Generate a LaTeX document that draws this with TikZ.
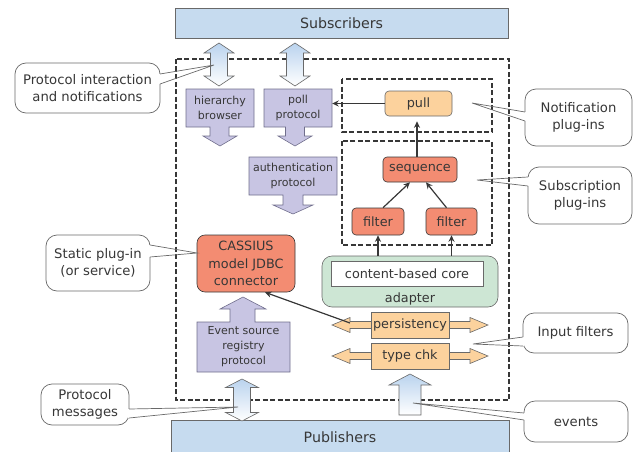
\documentclass[tikz,border=0pt]{standalone}
\usepackage{fontspec}
\setmainfont{DejaVu Sans}
\usetikzlibrary{arrows.meta,calc}
\definecolor{subblue}{RGB}{198,219,239}
\definecolor{lav}{RGB}{200,197,227}
\definecolor{lavline}{RGB}{112,110,140}
\definecolor{salmon}{RGB}{243,140,114}
\definecolor{peach}{RGB}{252,210,157}
\definecolor{mint}{RGB}{205,230,212}
\definecolor{ink}{RGB}{55,55,55}
\definecolor{edge}{RGB}{105,105,105}
\definecolor{arrblue}{RGB}{186,211,238}
\newcommand{\myCallFont}{\fontsize{13.2}{17}\selectfont}
\newcommand{\myBoxFont}{\fontsize{11}{15}\selectfont}
\newcommand{\myPlugFont}{\fontsize{12.8}{17.3}\selectfont}
\newcommand{\myLayerFont}{\fontsize{14.2}{17}\selectfont}
% vertical double arrow: style, cx, ytop, ybot, headhalf, shafthalf, headlen
\newcommand{\myVD}[7]{%
  \path[#1] (#2-#6,#3+#7) -- (#2-#5,#3+#7) -- (#2,#3) -- (#2+#5,#3+#7) -- (#2+#6,#3+#7)
    -- (#2+#6,#4-#7) -- (#2+#5,#4-#7) -- (#2,#4) -- (#2-#5,#4-#7) -- (#2-#6,#4-#7) -- cycle;}
% horizontal double arrow: style, cy, xleft, xright, headhalf, shafthalf, headlen
\newcommand{\myHD}[7]{%
  \path[#1] (#3,#2) -- (#3+#7,#2-#5) -- (#3+#7,#2-#6) -- (#4-#7,#2-#6) -- (#4-#7,#2-#5)
    -- (#4,#2) -- (#4-#7,#2+#5) -- (#4-#7,#2+#6) -- (#3+#7,#2+#6) -- (#3+#7,#2+#5) -- cycle;}
% callout: x1,y1,x2,y2, base x, base y1, base y2, tip x, tip y
\newcommand{\myCallout}[9]{%
  \draw[callout] (#1,#2) rectangle (#3,#4);
  \fill[white] (#5-1,#6+0.4) rectangle (#5+1,#7-0.4);
  \draw[calloutline] (#5,#6) -- (#8,#9) -- (#5,#7);}
\begin{document}
\begin{tikzpicture}[x=1pt,y=-1pt,
  every node/.style={text=ink, align=center, inner sep=0pt},
  layer/.style={draw=edge, fill=subblue, line width=0.6pt},
  lavshape/.style={draw=lavline, fill=lav, line width=0.6pt},
  boxlabel/.style={minimum width=#1, font=\myBoxFont},
  plug/.style={draw=ink, fill=salmon, rounded corners=4pt, line width=0.6pt, font=\myPlugFont},
  peachbox/.style={draw=edge, fill=peach, line width=0.6pt, font=\myPlugFont},
  peacharrow/.style={draw=edge, fill=peach, line width=0.6pt},
  dashbox/.style={draw=ink, dash pattern=on 5pt off 2.5pt, line width=1.1pt},
  conn/.style={draw=ink, line width=1.2pt, -{Stealth[length=6.5pt,width=6pt]}},
  callout/.style={draw=edge, fill=white, line width=0.7pt, rounded corners=11pt},
  calloutline/.style={draw=edge, line width=0.7pt},
  grad/.style={draw=edge, line width=0.6pt, top color=arrblue, bottom color=white}]
\useasboundingbox (0,0) rectangle (634,452);

% layers
\node[layer, minimum width=333pt, minimum height=30pt, font=\myLayerFont] (subs) at (341.5,23) {Subscribers};
\draw[layer] (171,420) rectangle (509,458);
\node[font=\myLayerFont] (pubs) at (340,437) {Publishers};

% dashed containers
\draw[dashbox] (176,59) rectangle (509,400);
\draw[dashbox] (342,79) rectangle (492,132);
\draw[dashbox] (342,141) rectangle (492,245);

% subscriber side double arrows
\myVD{grad}{219}{43}{86}{15}{8.5}{10}
\myVD{grad}{295}{43}{86}{15}{8.5}{10}

% purple protocol shapes
\path[lavshape] (186,89) -- (254,89) -- (254,127) -- (229,127) -- (229,136) -- (237,136) -- (220,146)
  -- (203,136) -- (210,136) -- (210,127) -- (186,127) -- cycle;
\node[boxlabel=68pt, minimum height=38pt] (hier) at (220,108) {hierarchy\\browser};
\path[lavshape] (264,89) -- (332,89) -- (332,127) -- (304.5,127) -- (304.5,136) -- (312,136) -- (295,146)
  -- (278,136) -- (285.5,136) -- (285.5,127) -- (264,127) -- cycle;
\node[boxlabel=68pt, minimum height=38pt] (poll) at (298,108) {poll\\protocol};
\path[lavshape] (249,157) -- (337,157) -- (337,195) -- (303,195) -- (303,205) -- (313,205) -- (293,214)
  -- (273,205) -- (283,205) -- (283,195) -- (249,195) -- cycle;
\node[boxlabel=88pt, minimum height=38pt] (auth) at (293,176) {authentication\\protocol};
\path[lavshape] (197,372) -- (197,322) -- (230,322) -- (230,309) -- (220,309) -- (243,297) -- (266,309)
  -- (255,309) -- (255,322) -- (290,322) -- (290,372) -- cycle;
\node[boxlabel=93pt, minimum height=50pt] (esr) at (243.5,347) {Event source\\registry\\protocol};

% CASSIUS
\node[plug, rounded corners=8pt, minimum width=98pt, minimum height=57pt] (cass) at (246,263.5) {CASSIUS\\model JDBC\\connector};

% plug-ins
\node[peachbox, rounded corners=4pt, minimum width=67pt, minimum height=25pt] (pull) at (418.5,103.5) {pull};
\node[plug, minimum width=74pt, minimum height=25pt] (seq) at (420,169.5) {sequence};
\node[plug, minimum width=52pt, minimum height=27pt] (f1) at (378,221.5) {filter};
\node[plug, minimum width=51pt, minimum height=27pt] (f2) at (451.5,221.5) {filter};

% adapter and core
\node[draw=edge, fill=mint, rounded corners=10pt, line width=0.6pt, minimum width=176pt, minimum height=51pt] (adapter) at (410,281.5) {};
\node[draw=edge, fill=white, line width=0.6pt, minimum width=152pt, minimum height=25pt, font=\myPlugFont] (core) at (407,273.5) {content-based core};
\node[font=\myPlugFont] (adlabel) at (410,299) {adapter};

% input filters
\myHD{peacharrow}{325}{332}{488}{7.5}{3.5}{18}
\node[peachbox, minimum width=78pt, minimum height=26pt] (pers) at (410,325) {persistency};
\myHD{peacharrow}{356}{332}{488}{7.5}{3.5}{18}
\node[peachbox, minimum width=78pt, minimum height=26pt] (tchk) at (410,356) {type chk};

% publisher side arrows
\myVD{grad}{242}{379}{421}{16.5}{8.5}{8.5}
\path[grad] (399,415) -- (399,385) -- (389,385) -- (410,374) -- (431,385) -- (421,385) -- (421,415) -- cycle;

% connectors
\draw[conn] (pull.west) -- (poll.east |- pull.west);
\draw[conn] ([xshift=-1.5pt]pull.south |- seq.north) -- ([xshift=-1.5pt,yshift=-5pt]pull.south);
\draw[conn] ($(f1.north)+(5,0)$) -- ($(seq.south)+(-10,0)$);
\draw[conn] ($(f2.north)+(-5,0)$) -- ($(seq.south)+(6,0)$);
\draw[conn] (f1.south |- adapter.north) -- (f1.south);
\draw[conn] (f2.south |- adapter.north) -- (f2.south);
\coordinate (ptail) at (350,323);
\draw[conn] (ptail) -- ($(cass.south)+(19,0)$);

% callouts
\myCallout{15}{63}{160}{113}{160}{74}{84}{214}{65}
\node[font=\myCallFont] (c1) at (87.5,88) {Protocol interaction\\and notifications};
\myCallout{525}{89}{632}{146}{525}{112}{121}{472}{103}
\node[font=\myCallFont] (c2) at (578.5,117.5) {Notification\\plug-ins};
\myCallout{528}{167}{632}{224}{528}{177}{186}{477}{180}
\node[font=\myCallFont] (c3) at (580,195.5) {Subscription\\plug-ins};
\myCallout{46}{235}{150}{291}{150}{245}{257}{197}{253}
\node[font=\myCallFont] (c4) at (98,263) {Static plug-in\\(or service)};
\myCallout{41}{384}{129}{425}{129}{409}{418}{238}{407}
\node[font=\myCallFont] (c5) at (85,404.5) {Protocol\\messages};
\myCallout{523}{313}{628}{353}{523}{337}{346}{473}{344}
\node[font=\myCallFont] (c6) at (575.5,333) {Input filters};
\myCallout{524}{401}{628}{442}{524}{413}{420}{413}{403}
\node[font=\myCallFont] (c7) at (576,421.5) {events};
\end{tikzpicture}
\end{document}
